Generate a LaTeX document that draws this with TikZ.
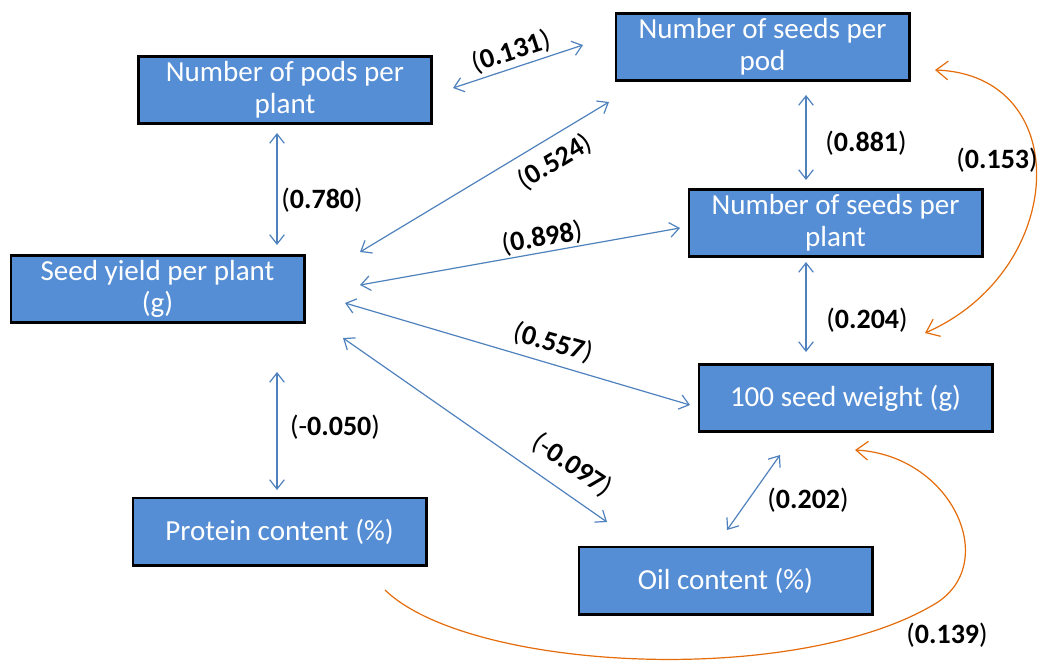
\documentclass[tikz,border=0pt]{standalone}
\usepackage{fontspec}
\setmainfont{Carlito}
\usetikzlibrary{
    arrows.meta,
    positioning
}
\definecolor{boxblue}{RGB}{85,142,213}
\definecolor{linkblue}{RGB}{79,129,189}
\definecolor{corange}{RGB}{228,108,10}
\tikzset{
  trait/.style = {draw=black, line width=2pt, fill=boxblue, text=white,
                  minimum width=220pt, minimum height=50.5pt,
                  align=center, font=\fontsize{21.8}{24}\selectfont},
  coef/.style  = {inner sep=1pt, font=\fontsize{21}{23}\selectfont},
  arr/.style   = {{Straight Barb[length=7pt,width=11pt]}-{Straight Barb[length=7pt,width=11pt]},
                  linkblue, line width=0.9pt},
  oarr/.style  = {-{Straight Barb[length=9pt,width=14pt]}, corange, line width=0.9pt},
  oarrr/.style = {{Straight Barb[length=9pt,width=14pt]}-{Straight Barb[length=9pt,width=14pt]},
                  corange, line width=0.9pt}
}

\begin{document}
\begin{tikzpicture}[x=0.75pt, y=-0.75pt]
    \useasboundingbox (0,0) rectangle (1041,662);
    % traits
    \node[trait] (pods)      at (285,90)    {Number of pods per\\plant};
    \node[trait] (seedpod)   at (762.5,47)  {Number of seeds per\\pod};
    \node[trait] (seedplant) at (835.5,223) {Number of seeds per\\plant};
    \node[trait] (yield)     at (157.5,289) {Seed yield per plant\\(g)};
    \node[trait] (sw)        at (845.5,398) {100 seed weight (g)};
    \node[trait] (protein)   at (279.5,531.5) {Protein content (\%)};
    \node[trait] (oil)       at (725.5,580.5) {Oil content (\%)};

    % arrow ends
    \coordinate (pod1) at (453,88);   \coordinate (spd1) at (583,45);
    \coordinate (pod2) at (277,133);  \coordinate (yld1) at (277,245);
    \coordinate (spd2) at (609,102);  \coordinate (yld2) at (360,252);
    \coordinate (yld3) at (360,285);  \coordinate (spl1) at (680,228);
    \coordinate (yld4) at (345,303);  \coordinate (sw1)  at (690,405);
    \coordinate (yld5) at (343,338);  \coordinate (oil1) at (607,522);
    \coordinate (yld6) at (277,372);  \coordinate (prt1) at (277,490);
    \coordinate (spd3) at (806,95);   \coordinate (spl2) at (806,180);
    \coordinate (spl3) at (806,262);  \coordinate (sw2)  at (806,352);
    \coordinate (sw3)  at (780,455);  \coordinate (oil2) at (727,530);
    \coordinate (spd4) at (935,70);   \coordinate (sw4)  at (925,333);
    \coordinate (prt2) at (385,590);  \coordinate (sw5)  at (855,450);

    \draw[arr] (pod1) -- (spd1);
    \draw[arr] (pod2) -- (yld1);
    \draw[arr] (spd2) -- (yld2);
    \draw[arr] (yld3) -- (spl1);
    \draw[arr] (yld4) -- (sw1);
    \draw[arr] (yld5) -- (oil1);
    \draw[arr] (yld6) -- (prt1);
    \draw[arr] (spd3) -- (spl2);
    \draw[arr] (spl3) -- (sw2);
    \draw[arr] (sw3) -- (oil2);
    \draw[oarrr] (spd4) .. controls (1075,75) and (1068,270) .. (sw4);
    \draw[oarr] (prt2) .. controls (470,672) and (800,688) .. (938,602)
                       .. controls (1000,560) and (950,455) .. (sw5);

    % coefficients
    \node[coef, rotate=18]  (c131) at (511,52)  {(\textbf{0.131})};
    \node[coef]             (c780) at (322,200) {(\textbf{0.780})};
    \node[coef, rotate=31]  (c524) at (555,162) {(\textbf{0.524})};
    \node[coef, rotate=10]  (c898) at (542,238) {(\textbf{0.898})};
    \node[coef, rotate=-16] (c557) at (553,343) {(\textbf{0.557})};
    \node[coef, rotate=-34] (c097) at (572,465) {(-\textbf{0.097})};
    \node[coef]             (c050) at (335,427) {(-\textbf{0.050})};
    \node[coef]             (c881) at (866,143) {(\textbf{0.881})};
    \node[coef]             (c204) at (867,320) {(\textbf{0.204})};
    \node[coef]             (c202) at (808,500) {(\textbf{0.202})};
    \node[coef]             (c153) at (997,160) {(\textbf{0.153})};
    \node[coef]             (c139) at (947,635) {(\textbf{0.139})};
\end{tikzpicture}
\end{document}
